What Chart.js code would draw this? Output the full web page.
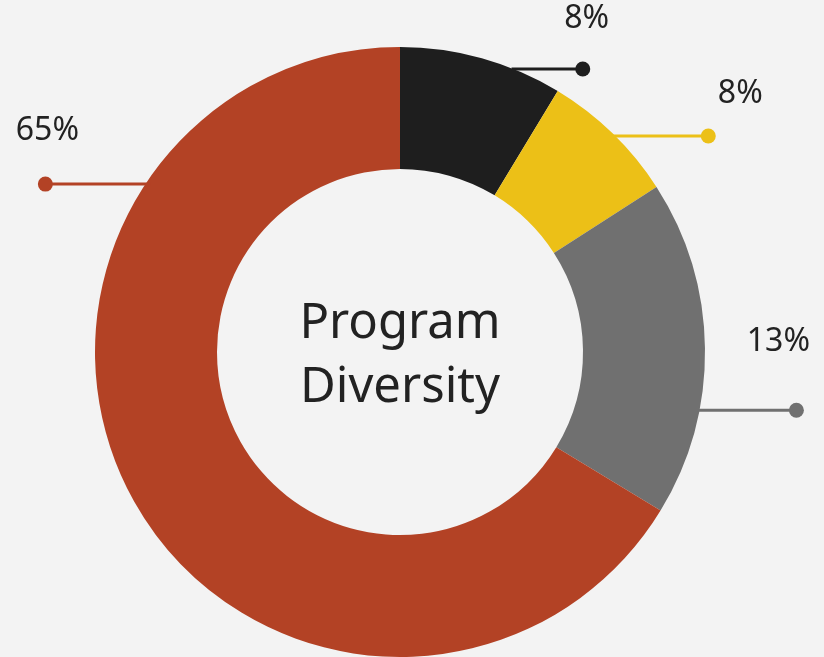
<!DOCTYPE html>
<html>
<head>
<meta charset="utf-8">
<script src="https://cdn.jsdelivr.net/npm/chart.js@4"></script>
<style>
  html, body { margin: 0; padding: 0; background: #f3f3f3; }
  #wrap { width: 824px; height: 657px; }
</style>
</head>
<body>
<div id="wrap"><canvas id="chart"></canvas></div>
<script>
// slices, clockwise from 12 o'clock
const categories = ['Black', 'Yellow', 'Gray', 'Red'];
const shares = [8.65, 7.25, 17.8, 66.3];
const shareLabels = ['8%', '8%', '13%', '65%'];
const colors = ['#1e1e1e', '#ecc017', '#707070', '#b34225'];
const centerLines = ['Program', 'Diversity'];

// callout: angle on the rim (deg from top, clockwise), line length, label offset from dot
const callouts = [
  { angle: 21.9, len: 69, dx: 4, dy: -50 },
  { angle: 44.9, len: 93, dx: 32, dy: -42 },
  { angle: 101, len: 97, dx: -18, dy: -68 },
  { angle: 303.4, len: -100, dx: 2, dy: -53 }
];

const calloutPlugin = {
  id: 'callouts',
  afterDatasetsDraw(chart) {
    const ctx = chart.ctx;
    const arcs = chart.getDatasetMeta(0).data;
    arcs.forEach((arc, i) => {
      const c = callouts[i];
      const a = c.angle * Math.PI / 180;
      const r = arc.outerRadius - 6;
      const sx = arc.x + r * Math.sin(a);
      const sy = arc.y - (arc.outerRadius) * Math.cos(a);
      const ex = arc.x + arc.outerRadius * Math.sin(a) + c.len;
      ctx.save();
      ctx.strokeStyle = colors[i];
      ctx.fillStyle = colors[i];
      ctx.lineWidth = 3;
      ctx.beginPath();
      ctx.moveTo(sx, sy);
      ctx.lineTo(ex, sy);
      ctx.stroke();
      ctx.beginPath();
      ctx.arc(ex, sy, 7.5, 0, Math.PI * 2);
      ctx.fill();
      ctx.fillStyle = '#222';
      ctx.font = '32px "Noto Sans"';
      ctx.textAlign = 'center';
      ctx.textBaseline = 'middle';
      ctx.fillText(shareLabels[i], ex + c.dx, sy + c.dy);
      ctx.restore();
    });

    const first = arcs[0];
    ctx.save();
    ctx.fillStyle = '#222';
    ctx.font = '49px "Noto Sans"';
    ctx.textAlign = 'center';
    ctx.textBaseline = 'alphabetic';
    ctx.fillText(centerLines[0], first.x, first.y - 14);
    ctx.fillText(centerLines[1], first.x, first.y + 50);
    ctx.restore();
  }
};

new Chart(document.getElementById('chart'), {
  type: 'doughnut',
  data: {
    labels: categories,
    datasets: [{
      data: shares,
      backgroundColor: colors,
      borderWidth: 0
    }]
  },
  options: {
    responsive: true,
    maintainAspectRatio: false,
    animation: false,
    cutout: '60%',
    layout: { padding: { left: 95, right: 119, top: 47, bottom: 0 } },
    plugins: {
      legend: { display: false },
      tooltip: { enabled: false }
    }
  },
  plugins: [calloutPlugin]
});
</script>
</body>
</html>
